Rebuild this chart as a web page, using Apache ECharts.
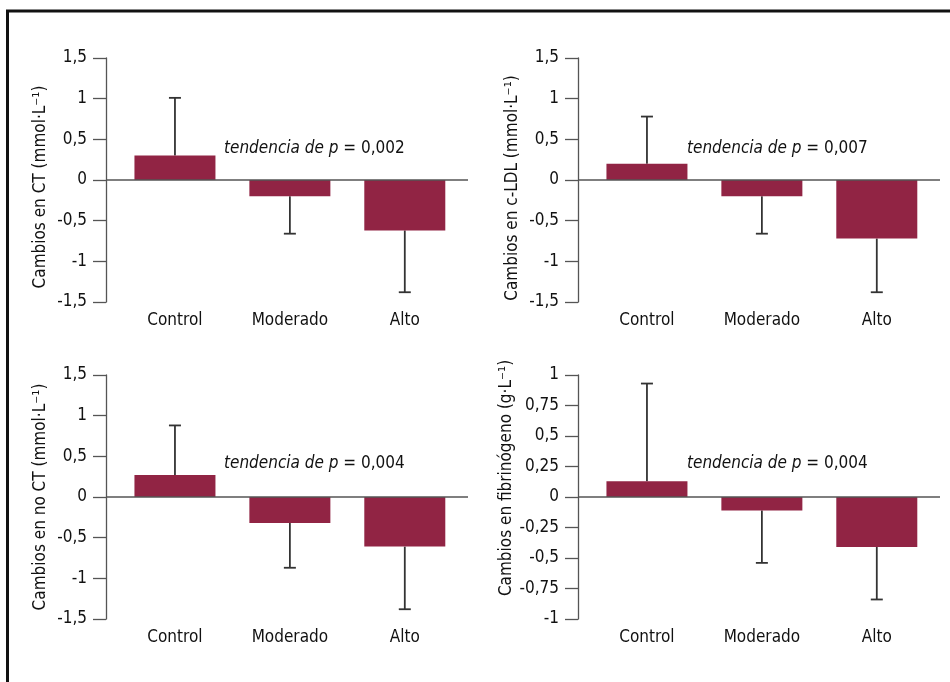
<!DOCTYPE html>
<html>
<head>
<meta charset="utf-8">
<script src="https://cdn.jsdelivr.net/npm/echarts@6/dist/echarts.min.js"></script>
<style>
  html, body { margin: 0; padding: 0; background: #fff; }
  #chart { width: 950px; height: 682px; }
</style>
</head>
<body>
<div id="chart"></div>
<script>
var categories = ['Control', 'Moderado', 'Alto'];

// medias y extremo de la barra de error
var ctMean = [0.30, -0.20, -0.62];
var ctErr = [1.01, -0.66, -1.38];
var ldlMean = [0.20, -0.20, -0.72];
var ldlErr = [0.78, -0.66, -1.38];
var noctMean = [0.27, -0.32, -0.61];
var noctErr = [0.88, -0.87, -1.38];
var fibMean = [0.13, -0.11, -0.41];
var fibErr = [0.93, -0.54, -0.84];

var panelNames = [
  'Cambios en CT (mmol·L⁻¹)',
  'Cambios en c-LDL (mmol·L⁻¹)',
  'Cambios en no CT (mmol·L⁻¹)',
  'Cambios en fibrinógeno (g·L⁻¹)'
];
var pValues = ['0,002', '0,007', '0,004', '0,004'];
var yRanges = [[-1.5, 1.5, 0.5], [-1.5, 1.5, 0.5], [-1.5, 1.5, 0.5], [-1, 1, 0.25]];
var means = [ctMean, ldlMean, noctMean, fibMean];
var errs = [ctErr, ldlErr, noctErr, fibErr];

var FONT = '"DejaVu Sans Condensed", "Liberation Sans", sans-serif';
var FS = 17;
var barColor = '#912444';

var gridPos = [
  { left: 106, top: 58 },
  { left: 578, top: 58 },
  { left: 106, top: 375 },
  { left: 578, top: 375 }
];
var textPos = [
  { left: 224, top: 140 },
  { left: 687, top: 140 },
  { left: 224, top: 455 },
  { left: 687, top: 455 }
];
// desplaza el nombre del eje a lo largo del eje
var namePad = [[0, 14, 0, 0], [0, 16, 0, 0], [0, 0, 0, 0], [0, 0, 0, 38]];

function fmt(v) {
  return String(Math.round(v * 100) / 100).replace('.', ',');
}

var grids = [], xAxes = [], yAxes = [], series = [], titles = [];

for (var i = 0; i < 4; i++) {
  grids.push({ left: gridPos[i].left, top: gridPos[i].top, width: 362, height: 244 });
  xAxes.push({
    type: 'value', gridIndex: i, min: -0.6, max: 2.55,
    splitLine: { show: false },
    axisLine: { show: false, onZero: false },
    axisTick: { show: false },
    axisLabel: {
      customValues: [0, 1, 2],
      formatter: function (v) { return categories[Math.round(v)]; },
      margin: 10, fontFamily: FONT, fontSize: FS, color: '#111'
    }
  });
  yAxes.push({
    type: 'value', gridIndex: i,
    min: yRanges[i][0], max: yRanges[i][1], interval: yRanges[i][2],
    name: panelNames[i], nameLocation: 'middle', nameGap: 57,
    nameTextStyle: { fontFamily: FONT, fontSize: FS, color: '#111', padding: namePad[i] },
    splitLine: { show: false },
    axisLine: { show: true, onZero: false, lineStyle: { color: '#555', width: 1.3 } },
    axisTick: { show: true, length: 13, lineStyle: { color: '#555', width: 1.3 } },
    axisLabel: { formatter: fmt, margin: 19, fontFamily: FONT, fontSize: FS, color: '#111' }
  });

  var barData = means[i].map(function (m, k) { return [k, m]; });
  var errData = means[i].map(function (m, k) { return [k, m, errs[i][k]]; });

  series.push({
    type: 'custom', xAxisIndex: i, yAxisIndex: i, z: 1,
    data: errData,
    renderItem: function (params, api) {
      var x = api.value(0);
      var a = api.coord([x, api.value(1)]);
      var b = api.coord([x, api.value(2)]);
      var st = { stroke: '#333', lineWidth: 1.8 };
      return {
        type: 'group',
        children: [
          { type: 'line', shape: { x1: a[0], y1: a[1], x2: b[0], y2: b[1] }, style: st },
          { type: 'line', shape: { x1: b[0] - 6, y1: b[1], x2: b[0] + 6, y2: b[1] }, style: st }
        ]
      };
    }
  });
  series.push({
    type: 'bar', xAxisIndex: i, yAxisIndex: i, z: 2,
    data: barData, barWidth: 81,
    itemStyle: { color: barColor },
    markLine: {
      silent: true, symbol: 'none', label: { show: false },
      lineStyle: { color: '#555', width: 1.5, type: 'solid' },
      data: [{ yAxis: 0 }]
    }
  });

  titles.push({
    left: textPos[i].left, top: textPos[i].top, padding: 0,
    text: '{i|tendencia de p} = ' + pValues[i],
    textStyle: {
      fontFamily: FONT, fontSize: FS, fontWeight: 'normal', color: '#111',
      rich: { i: { fontFamily: FONT, fontSize: FS, fontStyle: 'italic', color: '#111' } }
    }
  });
}

var chart = echarts.init(document.getElementById('chart'));
chart.setOption({
  animation: false,
  backgroundColor: '#fff',
  title: titles,
  grid: grids,
  xAxis: xAxes,
  yAxis: yAxes,
  series: series,
  graphic: [{
    type: 'rect', silent: true,
    shape: { x: 7.5, y: 11, width: 1000, height: 750 },
    style: { fill: 'none', stroke: '#111', lineWidth: 3 }
  }]
});
</script>
</body>
</html>
